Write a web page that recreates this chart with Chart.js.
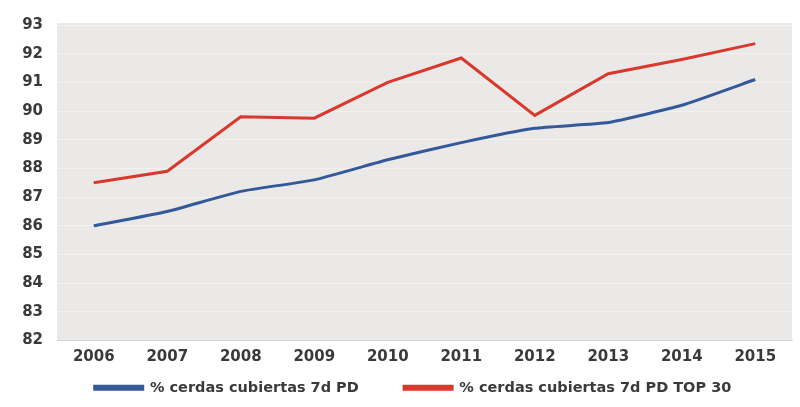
<!DOCTYPE html>
<html>
<head>
<meta charset="utf-8">
<script src="https://cdn.jsdelivr.net/npm/chart.js@4"></script>
<style>
  html, body { margin: 0; padding: 0; background: #fff; }
  #wrap { width: 800px; height: 407px; }
</style>
</head>
<body>
<div id="wrap"><canvas id="myChart"></canvas></div>
<script>
// datos
var years = ['2006', '2007', '2008', '2009', '2010', '2011', '2012', '2013', '2014', '2015'];
var cubiertasPD = [86.0, 86.5, 87.2, 87.6, 88.3, 88.9, 89.4, 89.6, 90.2, 91.1];
var cubiertasTop30 = [87.5, 87.9, 89.8, 89.75, 91.0, 91.85, 89.85, 91.3, 91.8, 92.35];
var yMin = 82;
var yMax = 93;

// fondo gris del area de trazado
var plotBg = {
    id: 'plotBg',
    beforeDraw: function(chart) {
        var a = chart.chartArea;
        var c = chart.ctx;
        c.save();
        c.fillStyle = '#ebe9e7';
        c.fillRect(a.left, a.top - 2, a.right - a.left, a.bottom - a.top + 2);
        c.restore();
    }
};

// la leyenda original esta un poco corrida a la derecha
var legendShift = {
    id: 'legendShift',
    afterLayout: function(chart) {
        chart.legend.left += 13;
        chart.legend.right += 13;
    }
};

var tickFont = { family: 'DejaVu Sans', size: 15, weight: 'bold' };
var nb = '\u00a0';

var ctx = document.getElementById('myChart');

var myChart = new Chart(ctx, {
    type: 'line',
    data: {
        labels: years,
        datasets: [{
            label: '% cerdas cubiertas 7d PD',
            data: cubiertasPD,
            borderColor: '#34599a',
            backgroundColor: '#34599a',
            borderWidth: 3,
            pointRadius: 0,
            tension: 0.15
        }, {
            label: '% cerdas cubiertas 7d PD TOP 30',
            data: cubiertasTop30,
            borderColor: '#d8392c',
            backgroundColor: '#d8392c',
            borderWidth: 3,
            pointRadius: 0,
            tension: 0
        }]
    },
    options: {
        responsive: true,
        maintainAspectRatio: false,
        animation: false,
        layout: {
            padding: { left: 8, right: 8, top: 25, bottom: 2 }
        },
        plugins: {
            legend: {
                position: 'bottom',
                labels: {
                    boxWidth: 48,
                    boxHeight: 3,
                    padding: 10,
                    color: '#3a3a3a',
                    font: { family: 'DejaVu Sans', size: 14.5, weight: 'bold' },
                    // espacio extra entre las dos series
                    generateLabels: function(chart) {
                        var items = Chart.defaults.plugins.legend.labels.generateLabels(chart);
                        items[0].text = items[0].text + nb.repeat(7);
                        return items;
                    }
                }
            },
            tooltip: { enabled: false }
        },
        scales: {
            x: {
                offset: true,
                grid: { display: false },
                border: { color: '#d6d4d2' },
                afterFit: function(scale) { scale.height += 4; },
                ticks: {
                    color: '#3a3a3a',
                    padding: 0,
                    font: tickFont
                }
            },
            y: {
                min: yMin,
                max: yMax,
                afterFit: function(scale) { scale.width = 49; },
                grid: { color: '#f3f2f1', drawTicks: false },
                border: { display: false },
                ticks: {
                    stepSize: 1,
                    color: '#3a3a3a',
                    padding: 14,
                    font: tickFont
                }
            }
        }
    },
    plugins: [plotBg, legendShift]
});
</script>
</body>
</html>
